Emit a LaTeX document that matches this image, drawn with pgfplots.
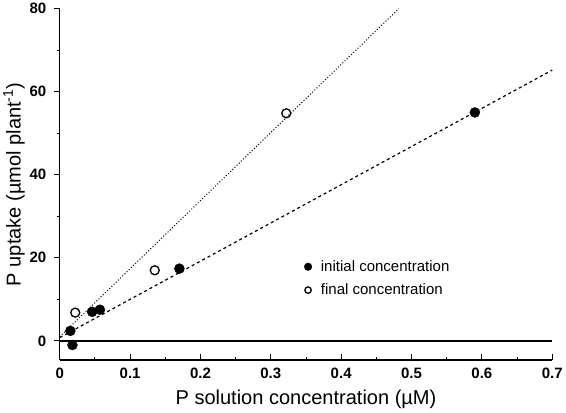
\documentclass[border=0pt]{standalone}
\usepackage{fontspec}
\setmainfont{Liberation Sans}
\usepackage{pgfplots}
\pgfplotsset{compat=1.18}
\begin{document}
\begin{tikzpicture}
\begin{axis}[
  scale only axis,
  width=492pt, height=351pt,
  xmin=0, xmax=0.7, ymin=-4.6, ymax=80,
  axis lines*=left,
  axis line style={line width=1.2pt},
  xtick={0,0.1,...,0.7},
  xticklabels={0,0.1,0.2,0.3,0.4,0.5,0.6,0.7},
  minor xtick={0.05,0.15,...,0.65},
  ytick={0,20,40,60,80},
  minor ytick={10,30,50,70},
  tick style={black, line width=1pt},
  major tick length=6pt, minor tick length=3pt,
  xtick align=inside, ytick align=outside,
  /pgf/number format/assume math mode=true,
  ticklabel style={font=\bfseries\fontsize{15}{17}\selectfont},
  xticklabel style={yshift=-5pt},
  yticklabel style={xshift=-4pt},
  label style={font=\fontsize{20}{22}\selectfont},
  xlabel={P solution concentration (µM)},
  ylabel={P uptake (µmol plant\textsuperscript{-1})},
  xlabel style={yshift=-4pt},
  ylabel style={yshift=-2pt},
  clip=false,
  legend style={draw=none, fill=none, at={(0.49,0.295)}, anchor=north west,
    font=\fontsize{15}{17}\selectfont, row sep=7pt,
    nodes={inner xsep=9pt}},
  legend cell align=left,
]
\addplot[black, line width=2pt, forget plot] coordinates {(0,0) (0.7,0)};
\addplot[black, dashed, line width=1.2pt, forget plot] coordinates {(0,0.8) (0.7,65.2)};
\addplot[black, dotted, line width=1pt, forget plot] coordinates {(0,1.0) (0.482,80)};
\addplot[only marks, mark=*, mark size=5pt, black] coordinates {
  (0.59,55) (0.17,17.4) (0.057,7.5) (0.046,7.0) (0.015,2.4) (0.018,-1.0)};
\addlegendimage{only marks, mark=*, mark size=3.8pt, black}
\addplot[only marks, mark=o, mark size=4.5pt, black, line width=1.3pt, mark options={fill=white}] coordinates {
  (0.322,54.8) (0.135,17.0) (0.022,6.8)};
\addlegendimage{only marks, mark=o, mark size=3.2pt, black, line width=1.3pt}
\legend{,initial concentration,,final concentration}
\end{axis}
\end{tikzpicture}
\end{document}
